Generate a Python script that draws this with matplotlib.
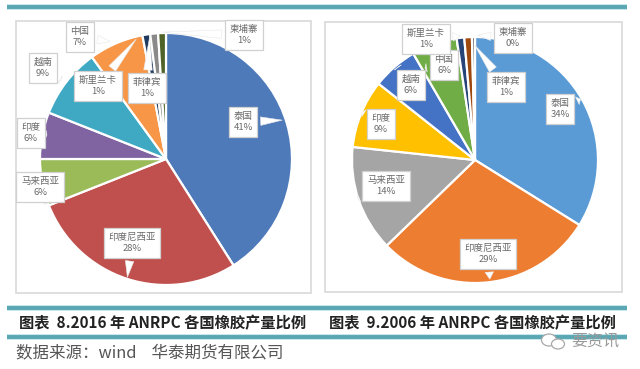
import matplotlib
matplotlib.use("Agg")
import matplotlib.pyplot as plt
from matplotlib.patches import Rectangle, Ellipse

plt.rcParams['font.family'] = ['Noto Sans CJK SC', 'DejaVu Sans']

countries = ["泰国", "印度尼西亚", "马来西亚", "印度", "越南", "中国", "斯里兰卡", "菲律宾", "柬埔寨"]
share_2016 = [41, 28, 6, 6, 9, 7, 1, 1, 1]
share_2006 = [34, 29, 14, 9, 6, 6, 1, 1, 0.4]
title_2016 = "图表  8.2016 年 ANRPC 各国橡胶产量比例"
title_2006 = "图表  9.2006 年 ANRPC 各国橡胶产量比例"
source = "数据来源：wind    华泰期货有限公司"

colors_2016 = ["#4F7ABA", "#C0504D", "#9BBB59", "#8064A2", "#3FA9C4", "#F79646", "#1F3A5F", "#8A8A8A", "#4F6228"]
colors_2006 = ["#5B9BD5", "#ED7D31", "#A5A5A5", "#FFC000", "#4472C4", "#70AD47", "#264478", "#9E480E", "#636363"]

# label box centre and pointer tip in picture pixels, same order as countries
boxes_2016 = [(243, 122), (132, 243), (40, 187), (31, 133), (43, 68), (80, 37), (98, 86), (147, 88), (244, 35)]
tips_2016 = [(285, 120), (127, 280), (48, 203), (47, 135), (63, 82), (113, 42), (138, 37), (150, 33), (160, 32)]
boxes_2006 = [(560, 109), (488, 254), (386, 186), (381, 124), (411, 85), (444, 65), (426, 39), (506, 87), (513, 38)]
tips_2006 = [(583, 98), (490, 282), (358, 199), (362, 112), (396, 65), (425, 68), (463, 36), (473, 43), (475, 35)]

H = 369
fig = plt.figure(figsize=(6.4, 3.69), dpi=100)
ax = fig.add_axes([0, 0, 1, 1])


def y(p):
    return H - p


def draw_pie(values, colors, cx, cy, r, boxes, tips, frame):
    ax.add_patch(Rectangle((frame[0], y(frame[3])), frame[2] - frame[0], frame[3] - frame[1],
                           fc="white", ec="#D9D9D9", lw=1.2, zorder=0))
    ax.pie(values, colors=colors, startangle=90, counterclock=False, center=(cx, y(cy)), radius=r,
           wedgeprops=dict(edgecolor="white", linewidth=1.6))
    for name, v, b, t in zip(countries, values, boxes, tips):
        ax.annotate("%s\n%d%%" % (name, round(v)), xy=(t[0], y(t[1])), xytext=(b[0], y(b[1])),
                    ha="center", va="center", fontsize=6.8, color="#6A6A6A", linespacing=1.3,
                    bbox=dict(boxstyle="square,pad=0.5", fc="white", ec="#D0D0D0", lw=0.9),
                    arrowprops=dict(arrowstyle="wedge,tail_width=0.9,shrink_factor=0.5",
                                    fc="white", ec="#E8E8E8", lw=0.4),
                    zorder=6)


draw_pie(share_2016, colors_2016, 166, 159, 126, boxes_2016, tips_2016, (16, 21, 311, 293))
draw_pie(share_2006, colors_2006, 475, 160, 123, boxes_2006, tips_2006, (325, 22, 622, 292))

ax.set_xlim(0, 640)
ax.set_ylim(0, H)
ax.set_aspect("auto")
ax.axis("off")

# teal rules
for p in (7, 308, 337):
    ax.plot([7, 627], [y(p), y(p)], color="#BFE6EA", lw=4.2, solid_capstyle="butt", zorder=2)
    ax.plot([7, 627], [y(p), y(p)], color="#5AA6B3", lw=2.8, solid_capstyle="butt", zorder=3)

ax.text(19, y(323), title_2016, fontsize=11, color="#222222", va="center", fontweight="bold")
ax.text(329, y(323), title_2006, fontsize=11, color="#222222", va="center", fontweight="bold")
ax.text(16, y(353), source, fontsize=11.9, color="#555555", va="center")

# watermark
ax.text(571, y(341), "要资讯", fontsize=11.5, color="#9A9A9A", va="center", zorder=5)
ax.add_patch(Ellipse((549, y(340)), 15, 12, fc="white", ec="#A8A8A8", lw=0.9, zorder=4))
ax.add_patch(Ellipse((558, y(344)), 13, 10, fc="white", ec="#A8A8A8", lw=0.9, zorder=4))

fig.savefig("out.png", dpi=100)
